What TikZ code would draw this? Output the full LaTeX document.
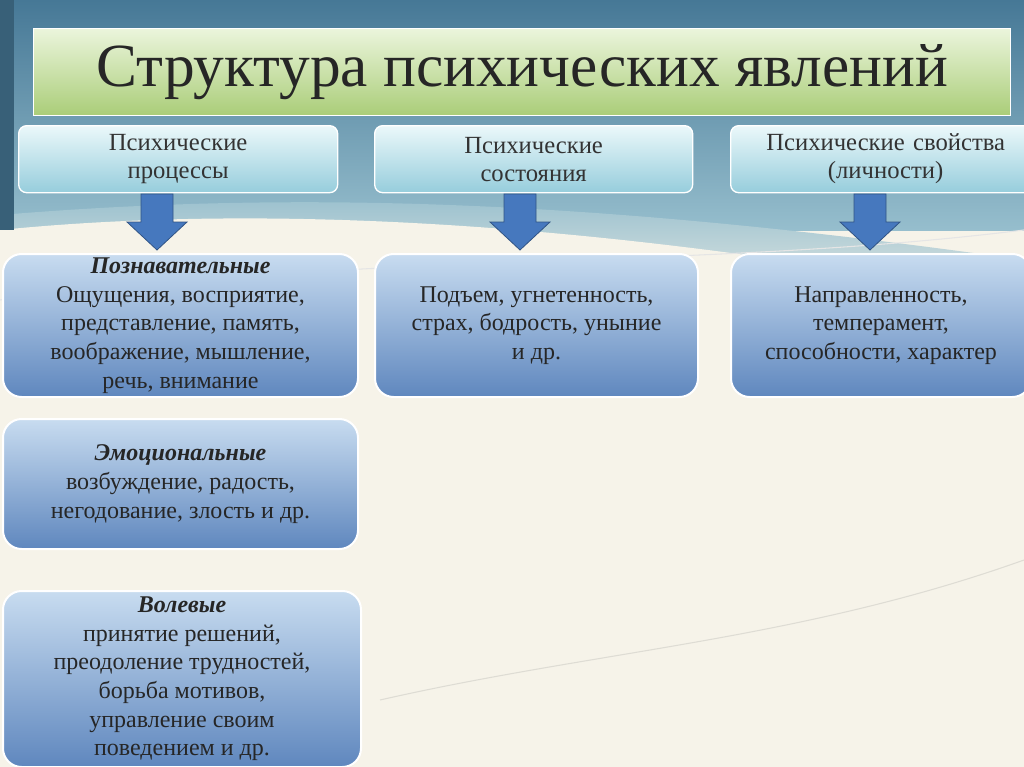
\documentclass[tikz,border=0pt]{standalone}
\usepackage{fontspec}
\setmainfont{Liberation Serif}
\usetikzlibrary{shapes.arrows}
\definecolor{bgtop}{RGB}{70,120,150}
\definecolor{bgmid}{RGB}{150,190,205}
\definecolor{cream}{RGB}{246,243,233}
\definecolor{boxtop}{RGB}{200,220,240}
\definecolor{boxbot}{RGB}{95,135,190}
\definecolor{hdtop}{RGB}{235,248,250}
\definecolor{hdbot}{RGB}{150,205,220}
\definecolor{ttltop}{RGB}{235,245,220}
\definecolor{ttlbot}{RGB}{170,205,120}
\definecolor{arr}{RGB}{70,120,190}
\begin{document}
\begin{tikzpicture}[x=0.75pt,y=-0.75pt,
  hd/.style={draw=white,line width=1pt,rounded corners=6pt,top color=hdtop,bottom color=hdbot,font=\fontsize{18.5}{21}\selectfont,align=center,text=black!80,inner sep=1pt},
  bx/.style={draw=white,line width=1.5pt,rounded corners=14pt,top color=boxtop,bottom color=boxbot,font=\fontsize{18}{21.5}\selectfont,align=center,text=black!85,inner sep=1pt},
  dar/.style={fill=arr,draw=arr!70!black,line width=0.6pt}]
\useasboundingbox (0,0) rectangle (1024,767);
\fill[cream] (0,0) rectangle (1024,767);
\shade[top color=bgtop,bottom color=bgmid] (0,0) rectangle (1024,230);
\shade[top color=bgmid,bottom color=cream] (0,215) .. controls (300,190) and (600,200) .. (1024,260) -- (1024,330) -- (0,330) -- cycle;
\fill[cream] (0,230) .. controls (300,200) and (650,230) .. (1024,300) -- (1024,767) -- (0,767) -- cycle;
\fill[bgtop!80!black] (0,0) rectangle (14,230);
\draw[white!80!gray,line width=0.8pt] (0,300) .. controls (400,250) and (700,270) .. (1024,230);
\draw[cream!80!gray,line width=0.8pt] (380,700) .. controls (600,650) and (800,640) .. (1024,560);
\node[draw=white,line width=1pt,top color=ttltop,bottom color=ttlbot,minimum width=977*0.75pt,minimum height=87*0.75pt,anchor=north west,font=\fontsize{46}{48}\selectfont,text=black!85,inner sep=0pt] (title) at (33,28) {Структура психических явлений};
\node[hd,minimum width=319*0.75pt,minimum height=67*0.75pt,anchor=north west] (h1) at (18,125) {Психические\\процессы};
\node[hd,minimum width=318*0.75pt,minimum height=67*0.75pt,anchor=north west] (h2) at (374,125) {Психические\\состояния};
\node[hd,minimum width=310*0.75pt,minimum height=67*0.75pt,anchor=north west,text width=300*0.75pt] (h3) at (730,125) {Психические свойства\\(личности)};
\node[bx,minimum width=355*0.75pt,minimum height=143*0.75pt,anchor=north west] (b1) at (2,253) {\textbf{\textit{Познавательные}}\\Ощущения, восприятие,\\представление, память,\\воображение, мышление,\\речь, внимание};
\node[bx,minimum width=323*0.75pt,minimum height=143*0.75pt,anchor=north west] (b2) at (374,253) {Подъем, угнетенность,\\страх, бодрость, уныние\\и др.};
\node[bx,minimum width=300*0.75pt,minimum height=143*0.75pt,anchor=north west] (b3) at (730,253) {Направленность,\\темперамент,\\способности, характер};
\node[bx,minimum width=355*0.75pt,minimum height=130*0.75pt,anchor=north west] (b4) at (2,418) {\textbf{\textit{Эмоциональные}}\\возбуждение, радость,\\негодование, злость и др.};
\node[bx,minimum width=358*0.75pt,minimum height=176*0.75pt,anchor=north west] (b5) at (2,590) {\textbf{\textit{Волевые}}\\принятие решений,\\преодоление трудностей,\\борьба мотивов,\\управление своим\\поведением и др.};
\foreach \a/\b/\x in {h1/b1/157,h2/b2/520,h3/b3/870}{
  \draw[dar] (\x-16,194) -- (\x+16,194) -- (\x+16,222) -- (\x+30,222) -- (\x,250) -- (\x-30,222) -- (\x-16,222) -- cycle;
}
\end{tikzpicture}
\end{document}
